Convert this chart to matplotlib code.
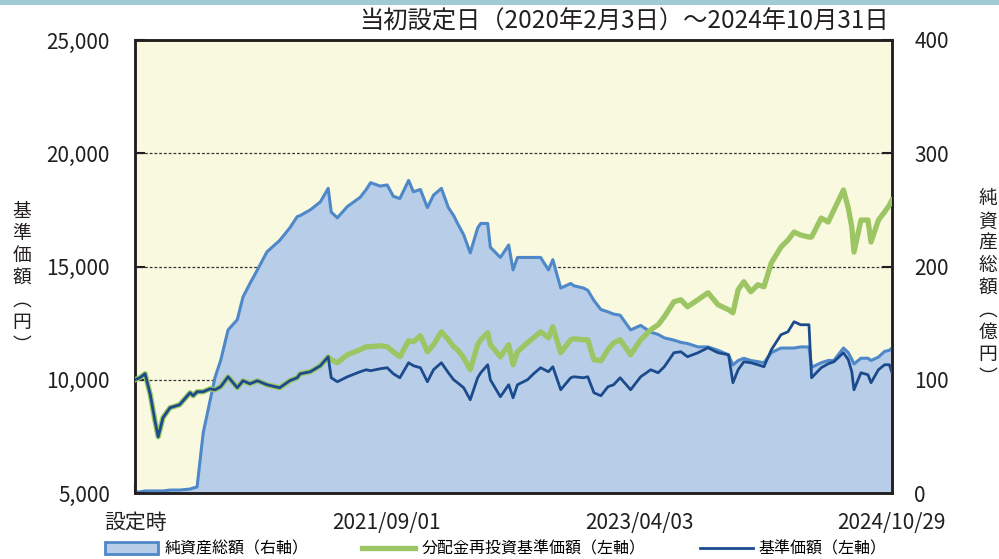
import matplotlib
matplotlib.use("Agg")
import matplotlib.pyplot as plt
from matplotlib.patches import Patch, Rectangle
from matplotlib.lines import Line2D
from matplotlib.ticker import FuncFormatter
import pandas as pd

plt.rcParams['font.family'] = ['Noto Sans CJK JP', 'DejaVu Sans']

# data
dates = pd.to_datetime([
    "2020-02-03", "2020-02-14", "2020-02-26", "2020-03-09", "2020-03-20", "2020-03-27",
    "2020-04-07", "2020-04-23", "2020-05-15", "2020-06-08", "2020-06-15", "2020-06-24",
    "2020-07-08", "2020-07-24", "2020-08-04", "2020-08-17", "2020-09-03", "2020-09-24",
    "2020-10-07", "2020-10-23", "2020-11-09", "2020-12-01", "2020-12-30", "2021-01-22",
    "2021-02-08", "2021-02-15", "2021-03-10", "2021-04-02", "2021-04-20", "2021-04-27",
    "2021-05-11", "2021-06-03", "2021-07-02", "2021-07-16", "2021-07-26", "2021-08-17",
    "2021-09-02", "2021-09-16", "2021-10-01", "2021-10-21", "2021-11-01", "2021-11-17",
    "2021-12-03", "2021-12-17", "2022-01-04", "2022-01-20", "2022-02-01", "2022-02-10",
    "2022-02-24", "2022-03-11", "2022-03-28", "2022-04-04", "2022-04-20", "2022-04-26",
    "2022-05-19", "2022-06-07", "2022-06-17", "2022-06-27", "2022-07-20", "2022-08-03",
    "2022-08-19", "2022-09-06", "2022-09-16", "2022-10-04", "2022-10-27", "2022-11-03",
    "2022-11-25", "2022-12-05", "2022-12-19", "2023-01-04", "2023-01-20", "2023-02-02",
    "2023-02-17", "2023-03-13", "2023-04-05", "2023-04-28", "2023-05-15", "2023-05-29",
    "2023-06-20", "2023-07-06", "2023-07-21", "2023-08-14", "2023-09-06", "2023-09-29",
    "2023-10-23", "2023-11-02", "2023-11-14", "2023-11-27", "2023-12-13", "2023-12-29",
    "2024-01-12", "2024-01-29", "2024-02-20", "2024-03-07", "2024-03-21", "2024-04-05",
    "2024-04-24", "2024-04-30", "2024-05-22", "2024-06-07", "2024-06-20", "2024-07-12",
    "2024-07-23", "2024-07-31", "2024-08-05", "2024-08-21", "2024-09-06", "2024-09-13",
    "2024-09-30", "2024-10-14", "2024-10-25", "2024-10-31",
])

# 基準価額 (yen)
nav = [
    10000, 10088, 10265, 9338, 8146, 7483,
    8322, 8764, 8896, 9426, 9294, 9470,
    9470, 9603, 9558, 9691, 10132, 9647,
    9956, 9823, 9956, 9779, 9647, 9956,
    10088, 10265, 10353, 10618, 11015, 10088,
    9912, 10132, 10353, 10442, 10398, 10486,
    10530, 10265, 10088, 10751, 10618, 10530,
    9912, 10442, 10751, 10309, 10000, 9868,
    9647, 9117, 10088, 10309, 10662, 10000,
    9249, 9779, 9205, 9779, 10000, 10265,
    10530, 10353, 10574, 9558, 10088, 10132,
    10088, 10132, 9426, 9293, 9691, 9779,
    10088, 9558, 10132, 10442, 10309, 10574,
    11192, 11236, 11015, 11192, 11413, 11192,
    11104, 9868, 10442, 10795, 10751, 10662,
    10574, 11325, 11987, 12119, 12561, 12428,
    12428, 10088, 10530, 10706, 10795, 11192,
    10883, 10353, 9558, 10309, 10221, 9868,
    10442, 10662, 10662, 10309,
]

# 分配金再投資基準価額 (yen)
reinvest = [
    10000, 10088, 10265, 9338, 8146, 7483,
    8322, 8764, 8896, 9426, 9294, 9470,
    9470, 9603, 9558, 9691, 10132, 9647,
    9956, 9823, 9956, 9779, 9647, 9956,
    10088, 10265, 10353, 10618, 11015, 10883,
    10751, 11104, 11325, 11457, 11457, 11501,
    11457, 11236, 11015, 11722, 11678, 11943,
    11236, 11545, 12119, 11766, 11457, 11325,
    10971, 10442, 11545, 11766, 12075, 11545,
    11015, 11545, 10662, 11236, 11634, 11854,
    12119, 11854, 12340, 11192, 11766, 11810,
    11766, 11766, 10883, 10839, 11325, 11634,
    11766, 11104, 11766, 12208, 12428, 12782,
    13444, 13532, 13223, 13532, 13841, 13311,
    13091, 12958, 13974, 14327, 13885, 14195,
    14106, 15166, 15859, 16168, 16521, 16389,
    16300, 16300, 17139, 16963, 17492, 18377,
    17581, 16742, 15638, 17051, 17051, 16080,
    17051, 17404, 17713, 17934,
]

# 純資産総額 (100 million yen)
assets = [
    0.9, 0.9, 1.8, 1.8, 1.8, 1.8,
    1.8, 2.6, 2.6, 3.5, 4.4, 5.3,
    53, 82, 102, 117, 144, 153,
    173, 185, 197, 213, 223, 234,
    244, 245, 250, 257, 269, 248,
    243, 253, 261, 268, 274, 271,
    272, 262, 260, 276, 266, 268,
    252, 263, 269, 252, 245, 238,
    228, 212, 234, 238, 238, 217,
    208, 219, 197, 208, 208, 208,
    208, 197, 206, 181, 185, 183,
    181, 179, 170, 162, 160, 158,
    157, 144, 148, 142, 140, 137,
    135, 133, 132, 129, 129, 126,
    122, 113, 117, 119, 117, 116,
    115, 124, 128, 128, 128, 129,
    129, 111, 115, 117, 117, 128,
    124, 118, 114, 119, 119, 117,
    120, 125, 126, 128,
]

x_ticks = pd.to_datetime(["2020-02-03", "2021-09-01", "2023-04-03", "2024-10-29"])
x_labels = ["設定時", "2021/09/01", "2023/04/03", "2024/10/29"]
left_ticks = [5000, 10000, 15000, 20000, 25000]
right_ticks = [0, 100, 200, 300, 400]

fill_c = '#b7cde8'
edge_c = '#4e88c8'
green_c = '#9cc563'
navy_c = '#1c4b8d'
spine_c = '#231f20'

fig = plt.figure(figsize=(9.99, 5.59), dpi=100)
fig.add_artist(Rectangle((0, 1 - 5 / 559), 1, 5 / 559, transform=fig.transFigure,
                         color='#a1cbd2', lw=0))

ax = fig.add_axes([135 / 999, 66 / 559, 757 / 999, 453 / 559])
ax.set_facecolor('#f9f9e0')
ax.fill_between(dates, assets, 0, color=fill_c, lw=0, zorder=2)
ax.plot(dates, assets, color=edge_c, lw=2.2, zorder=3)
ax.set_ylim(0, 400)
ax.set_yticks(right_ticks)
ax.yaxis.grid(True, ls=(0, (2.2, 1.6)), color='#333333', lw=0.9, zorder=1)
ax.set_axisbelow(True)
ax.set_xlim(pd.Timestamp("2020-02-03"), pd.Timestamp("2024-10-31"))
ax.set_xticks(x_ticks)
ax.set_xticklabels(x_labels)

ax2 = ax.twinx()
ax2.plot(dates, reinvest, color=green_c, lw=3.8, solid_joinstyle='round', zorder=3)
ax2.plot(dates, nav, color=navy_c, lw=2.0, zorder=4)
ax2.set_ylim(5000, 25000)
ax2.set_yticks(left_ticks)
ax2.yaxis.set_major_formatter(FuncFormatter(lambda v, _: f"{v:,.0f}"))

ax.yaxis.tick_right()
ax2.yaxis.tick_left()

ax.tick_params(axis='y', direction='in', length=7, width=1.5, pad=16, labelsize=15,
               colors=spine_c, right=True, left=False, labelright=True, labelleft=False)
ax2.tick_params(axis='y', direction='in', length=7, width=1.5, pad=18, labelsize=15,
                colors=spine_c, left=True, right=False, labelleft=True, labelright=False)
ax.tick_params(axis='x', direction='in', length=6, width=1.5, pad=14, labelsize=15,
               colors=spine_c)

for a in (ax, ax2):
    for s in a.spines.values():
        s.set_linewidth(1.8)
        s.set_color(spine_c)

fig.text(889 / 999, 1 - 22 / 559, "当初設定日（2020年2月3日）～2024年10月31日",
         ha='right', va='center', fontsize=17.5, color=spine_c)

fig.text(22 / 999, 1 - 278 / 559, "\n".join("基準価額︵円︶"), ha='center', va='center',
         fontsize=13.5, linespacing=1.08, color=spine_c)
fig.text(988 / 999, 1 - 288 / 559, "\n".join("純資産総額︵億円︶"), ha='center', va='center',
         fontsize=13.5, linespacing=1.08, color=spine_c)

handles = [
    Patch(facecolor=fill_c, edgecolor=edge_c, lw=2),
    Line2D([], [], color=green_c, lw=3.8),
    Line2D([], [], color=navy_c, lw=2.0),
]
labels = ["純資産総額（右軸）", "分配金再投資基準価額（左軸）", "基準価額（左軸）"]
fig.legend(handles, labels, loc='center left', bbox_to_anchor=(105 / 999, 1 - 549 / 559),
           ncol=3, frameon=False, fontsize=11.5, handlelength=3.3, handletextpad=0.4,
           columnspacing=3.4, borderpad=0, borderaxespad=0, handleheight=0.7)

fig.savefig("out.png", dpi=100)
